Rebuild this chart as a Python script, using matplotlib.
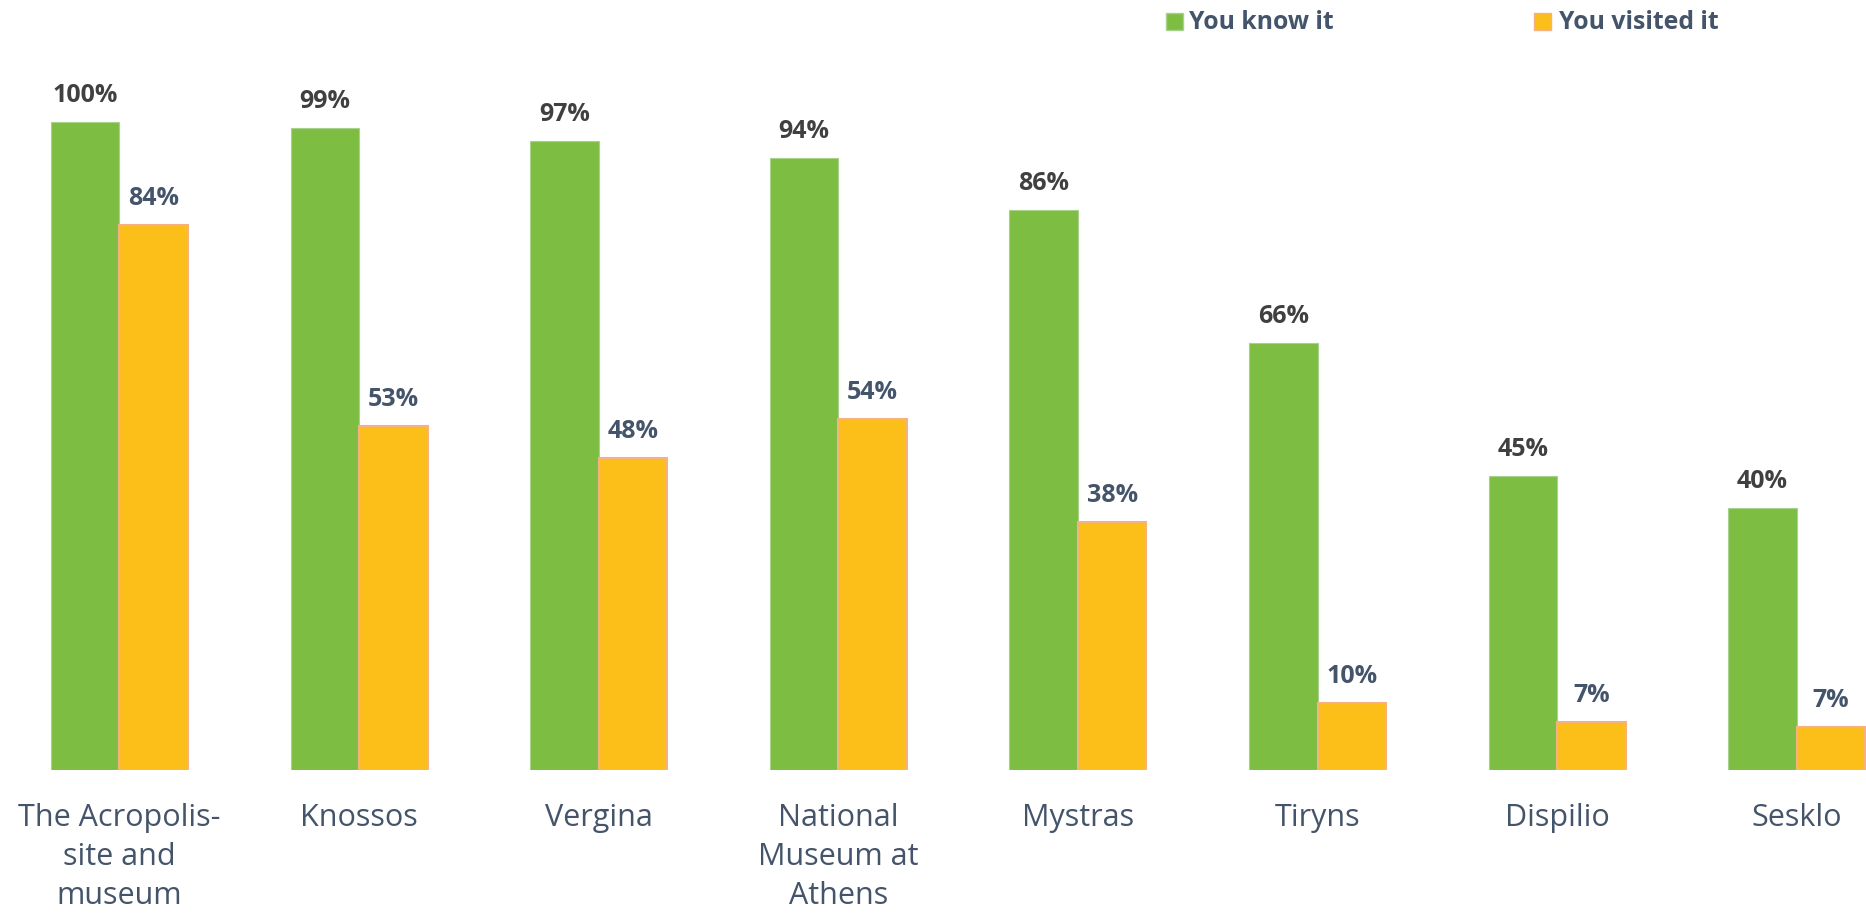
import matplotlib
matplotlib.use("Agg")
import matplotlib.pyplot as plt
from matplotlib.patches import Rectangle
import numpy as np

# ---- data ----
categories = ["The Acropolis-\nsite and\nmuseum", "Knossos", "Vergina",
              "National\nMuseum at\nAthens", "Mystras", "Tiryns", "Dispilio", "Sesklo"]
know_it = [100, 99.1, 97.1, 94.4, 86.4, 65.9, 45.4, 40.4]
visited_it = [84, 53, 48.1, 54.1, 38.2, 10.3, 7.4, 6.6]
series_names = ["You know it", "You visited it"]

# ---- style ----
GREEN = "#7DBE42"
GREEN_EDGE = "#A9D18E"
ORANGE = "#FCBF1A"
ORANGE_EDGE = "#F4B183"
DARK = "#404040"
SLATE = "#44546A"

W, H = 1866, 915
fig = plt.figure(figsize=(W / 100, H / 100), dpi=100)
plt.rcParams["font.family"] = ["Open Sans", "DejaVu Sans"]

base_px = 770
ax = fig.add_axes([0, (H - base_px) / H, 1, base_px / H])

step = 239.6
x0 = 119.5
x = np.arange(len(categories))
w = 68.5 / step

ax.bar(x - w / 2, know_it, width=w, color=GREEN, edgecolor=GREEN_EDGE, linewidth=0.8)
ax.bar(x + w / 2, visited_it, width=w, color=ORANGE, edgecolor=ORANGE_EDGE, linewidth=1.5)

ax.set_xlim(-x0 / step, (W - x0) / step)
ax.set_ylim(0, base_px / 648.3 * 100)

for xi, v in zip(x, know_it):
    ax.annotate(f"{v:.0f}%", (xi - w / 2, v), xytext=(0, 14.4), textcoords="offset points",
                ha="center", va="baseline", fontsize=18, fontweight="bold", color=DARK)
for xi, v in zip(x, visited_it):
    ax.annotate(f"{v:.0f}%", (xi + w / 2, v), xytext=(0, 14.4), textcoords="offset points",
                ha="center", va="baseline", fontsize=18, fontweight="bold", color=SLATE)

ax.set_xticks(x)
ax.set_xticklabels(categories, fontsize=22, color=SLATE, linespacing=1.4)
ax.tick_params(axis="x", length=0, pad=23.5)
ax.set_yticks([])
for s in ax.spines.values():
    s.set_visible(False)

# ---- legend (manual, top right) ----
legend_items = [(1166, GREEN, GREEN_EDGE, 1189), (1534, ORANGE, ORANGE_EDGE, 1559)]
for (lx, fc, ec, tx), name in zip(legend_items, series_names):
    fig.add_artist(Rectangle((lx / W, (H - 30) / H), 17 / W, 17 / H, transform=fig.transFigure,
                             facecolor=fc, edgecolor=ec, linewidth=1))
    fig.text(tx / W, (H - 29.3) / H, name, ha="left", va="baseline", fontsize=17.8,
             fontweight="bold", color=SLATE)

fig.savefig("out.png", dpi=100)
